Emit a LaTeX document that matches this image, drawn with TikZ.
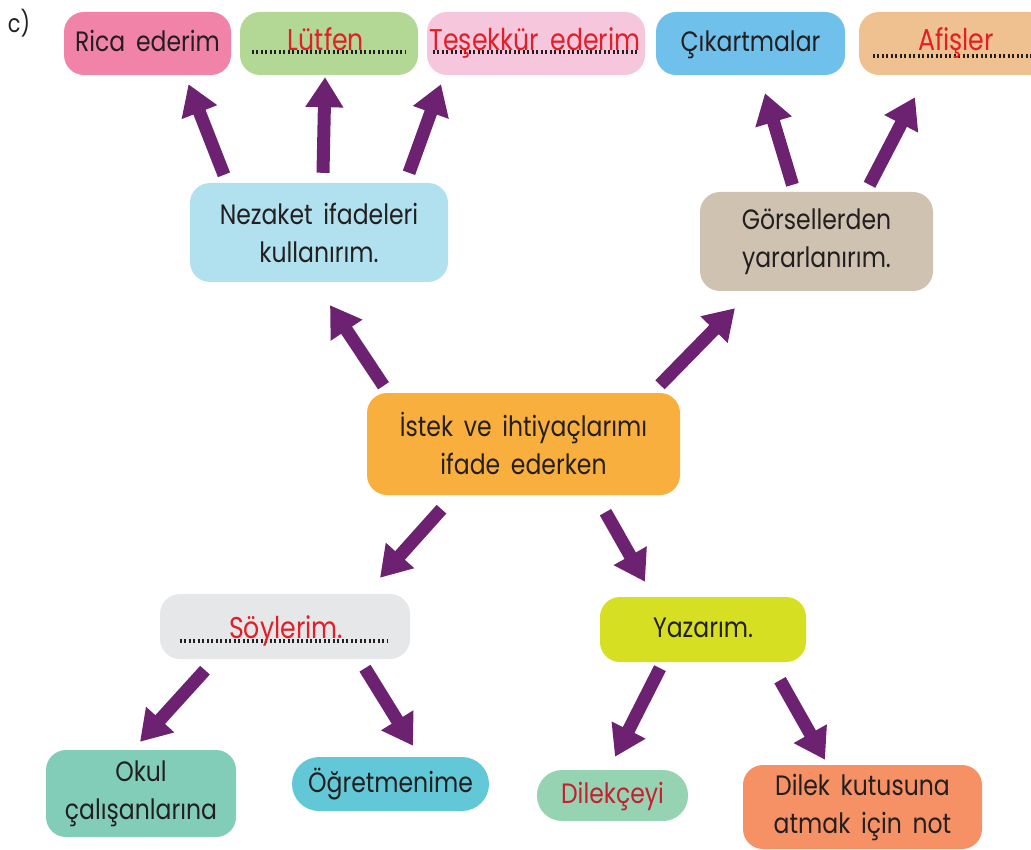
\documentclass[tikz,border=0pt]{standalone}
\usepackage{fontspec}
\setmainfont{Poppins}[FakeStretch=0.84,WordSpace=1.7]
\usetikzlibrary{arrows.meta,calc}
\definecolor{txt}{RGB}{35,31,32}
\definecolor{cred}{RGB}{226,30,38}
\definecolor{cdred}{RGB}{200,30,48}
\definecolor{apurple}{RGB}{108,34,112}
\definecolor{cpink}{RGB}{242,131,168}
\definecolor{cgreen}{RGB}{179,215,149}
\definecolor{clpink}{RGB}{245,198,220}
\definecolor{cblue}{RGB}{111,192,234}
\definecolor{cpeach}{RGB}{240,193,144}
\definecolor{clblue}{RGB}{177,225,238}
\definecolor{ctan}{RGB}{207,194,176}
\definecolor{corange}{RGB}{249,175,62}
\definecolor{cgray}{RGB}{230,231,232}
\definecolor{cyell}{RGB}{214,223,34}
\definecolor{cteal}{RGB}{130,205,183}
\definecolor{ccyan}{RGB}{98,200,215}
\definecolor{cmint}{RGB}{150,211,178}
\definecolor{corng}{RGB}{245,145,101}
\begin{document}
\begin{tikzpicture}[x=1pt,y=-1pt,
  box/.style={rounded corners=20pt, inner sep=0pt, align=center, text=txt,
    font=\fontsize{28}{38}\selectfont},
  one/.style={text height=20pt, text depth=4pt},
  pill/.style={box, rounded corners=25pt},
  redtxt/.style={text=cred, inner sep=0pt, anchor=base, font=\fontsize{30}{38}\selectfont},
  dots/.style={draw=txt, line width=4pt, dash pattern=on 1.8pt off 2.7pt},
  arr/.style={draw=apurple, line width=13pt, -{Triangle[length=30pt,width=36pt]}}]
\useasboundingbox (0,0) rectangle (1031,850);
\clip (0,0) rectangle (1031,850);

\node[text=txt, inner sep=0pt, font=\fontsize{25}{28}\selectfont] (lbl) at (19,23) {c)};

% top row
\node[box, one, fill=cpink, minimum width=167pt, minimum height=63pt] (rica) at (147.5,43.5) {Rica ederim};
\node[box, fill=cgreen, minimum width=178pt, minimum height=63pt] (lut) at (329,43.5) {};
\node[box, fill=clpink, minimum width=218pt, minimum height=63pt] (tes) at (536,43.5) {};
\node[box, one, fill=cblue, minimum width=189pt, minimum height=63pt] (cik) at (750.5,43.5) {Çıkartmalar};
\node[box, fill=cpeach, minimum width=191pt, minimum height=63pt] (afis) at (954.5,43.5) {};

\draw[dots] ($(lut.west)+(12,9)$) -- ($(lut.east)+(-12,9)$);
\node[redtxt] (lutt) at ($(lut.center)+(-3,7)$) {Lütfen};
\draw[dots] ($(tes.west)+(6,9)$) -- ($(tes.east)+(-6,9)$);
\node[redtxt] (test) at ($(tes.center)+(-1,7)$) {Teşekkür ederim};
\draw[dots] ($(afis.west)+(14,13)$) -- ($(afis.east)+(-14,13)$);
\node[redtxt] (afist) at (956,51) {Afişler};

% second level
\node[box, fill=clblue, minimum width=258pt, minimum height=99pt] (nez) at (319,232.5) {Nezaket ifadeleri\\kullanırım.};
\node[box, fill=ctan, minimum width=233pt, minimum height=99pt] (gor) at (816.5,241.5) {Görsellerden\\yararlanırım.};

% center
\node[box, fill=corange, minimum width=313pt, minimum height=102pt] (ist) at (523.5,444) {İstek ve ihtiyaçlarımı\\ifade ederken};

% third level
\node[box, fill=cgray, minimum width=250pt, minimum height=65pt] (soy) at (285,626.5) {};
\draw[dots] ($(soy.west)+(20,14)$) -- ($(soy.east)+(-22,14)$);
\node[redtxt] (soyt) at ($(soy.center)+(1,12)$) {Söylerim.};
\node[box, one, fill=cyell, minimum width=206pt, minimum height=65pt] (yaz) at (703,629.5) {Yazarım.};

% bottom row
\node[box, fill=cteal, minimum width=190pt, minimum height=87pt] (okul) at (141,793.5) {Okul\\çalışanlarına};
\node[pill, one, rounded corners=27pt, fill=ccyan, minimum width=197pt, minimum height=54pt] (ogr) at (390.5,784) {Öğretmenime};
\node[pill, one, fill=cmint, minimum width=151pt, minimum height=51pt, text=cdred] (dil) at (612.5,795.5) {Dilekçeyi};
\node[box, fill=corng, minimum width=239pt, minimum height=84pt] (kut) at (862.5,807) {Dilek kutusuna\\atmak için not};

% arrows
\draw[arr] ($(nez.north)+(-95,-8)$) -- ($(rica.south)+(41,9)$);
\draw[arr] ($(nez.north)+(4,-10)$) -- ($(lut.south)+(-4,2)$);
\draw[arr] ($(nez.north)+(90,-10)$) -- ($(tes.south)+(-95,9)$);
\draw[arr] ($(gor.north)+(-24,-7)$) -- ($(cik.south)+(14.5,18)$);
\draw[arr] ($(gor.north)+(53,-7)$) -- ($(afis.south)+(-39.5,22)$);
\draw[arr] ($(ist.north)+(-140,-7)$) -- ($(nez.south)+(11,23)$);
\draw[arr] ($(ist.north)+(136.5,-8)$) -- ($(gor.south)+(-81.5,17)$);
\draw[arr] ($(ist.south)+(-82,14)$) -- ($(soy.north)+(95,-16)$);
\draw[arr] ($(ist.south)+(82,17)$) -- ($(yaz.north)+(-58,-15)$);
\draw[arr] ($(soy.south)+(-80,11)$) -- ($(okul.north)+(-1,-8)$);
\draw[arr] ($(soy.south)+(80,9)$) -- ($(ogr.north)+(22.5,-11)$);
\draw[arr] ($(yaz.south)+(-43,6)$) -- ($(dil.north)+(2.5,-13)$);
\draw[arr] ($(yaz.south)+(77,18)$) -- ($(kut.north)+(-37.5,-5)$);
\end{tikzpicture}
\end{document}
